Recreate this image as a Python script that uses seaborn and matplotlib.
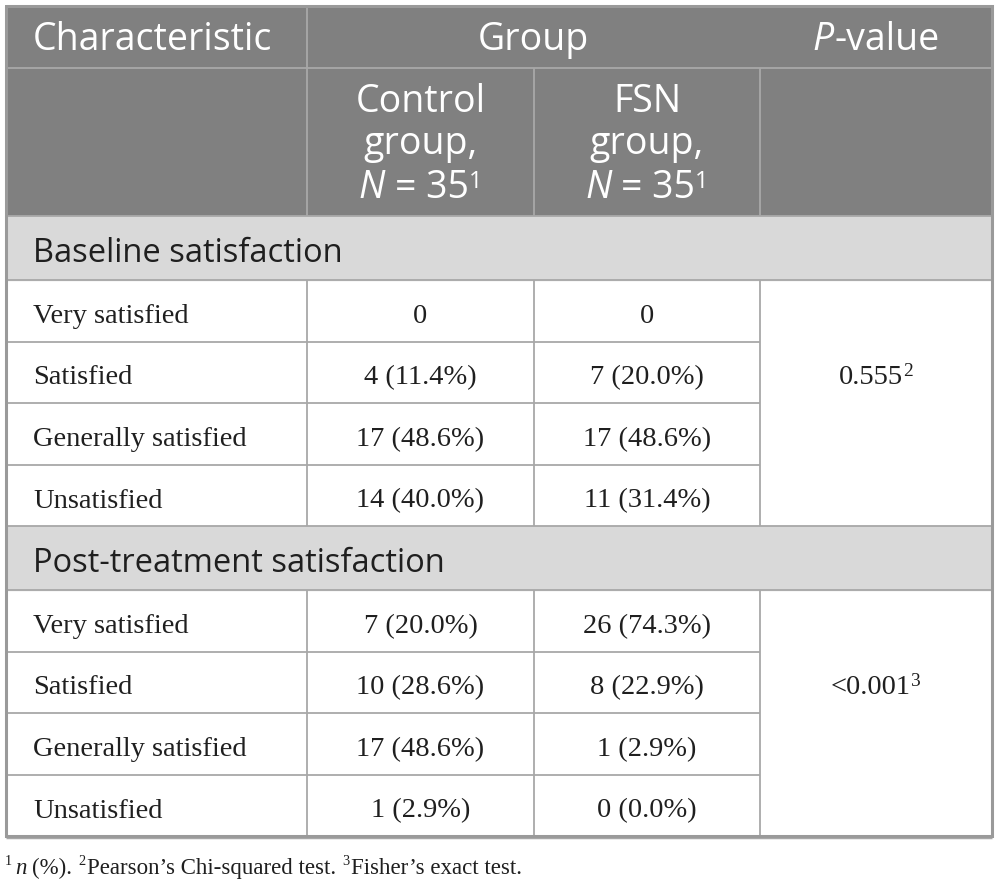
import matplotlib
matplotlib.use("Agg")
import matplotlib.pyplot as plt
from matplotlib.patches import Rectangle
import seaborn as sns

# table content
sections = ["Baseline satisfaction", "Post-treatment satisfaction"]
levels = ["Very satisfied", "Satisfied", "Generally satisfied", "Unsatisfied"]
control_vals = [
    ["0", "4 (11.4%)", "17 (48.6%)", "14 (40.0%)"],
    ["7 (20.0%)", "10 (28.6%)", "17 (48.6%)", "1 (2.9%)"],
]
fsn_vals = [
    ["0", "7 (20.0%)", "17 (48.6%)", "11 (31.4%)"],
    ["26 (74.3%)", "8 (22.9%)", "1 (2.9%)", "0 (0.0%)"],
]
p_values = ["0.555", "<0.001"]
p_notes = ["2", "3"]
group_names = ["Control", "FSN"]
group_sizes = [35, 35]
footnotes = ["(%).", "Pearson’s Chi-squared test.", "Fisher’s exact test."]

sns.set_theme(style="white")
SANS = ["Open Sans", "DejaVu Sans"]
SERIF = ["Liberation Serif", "DejaVu Serif"]

# layout in pixels
W, H = 1000, 894
col_x = [6, 307, 534, 760, 992]
head1 = (6, 68)
head2 = (68, 216)
sec_h = 64
row_h = 61.5
dark = "#808080"
light = "#d9d9d9"
line_c = "#a8a8a8"
ink = "#1f1f1f"

fig = plt.figure(figsize=(W / 100, H / 100), dpi=100)
ax = fig.add_axes([0, 0, 1, 1])
ax.set_xlim(0, W)
ax.set_ylim(H, 0)
ax.axis("off")
renderer = fig.canvas.get_renderer()


def text_width(s, size, family, style="normal"):
    t = ax.text(0, 0, s, fontsize=size, family=family, style=style)
    w = t.get_window_extent(renderer).width
    t.remove()
    return w


def draw_runs(x, y, parts, size, family, color, ha="left", sup_size=0.62, sup_raise=9):
    # parts: (string, kind) with kind n=normal, i=italic, s=superscript, g=gap in px
    space = text_width("x x", size, family) - text_width("xx", size, family)
    items = []
    for s, kind in parts:
        if kind == "g":
            items.append((None, float(s), 0, size, "normal"))
        elif s == " ":
            items.append((None, space, 0, size, "normal"))
        elif kind == "s":
            fs = size * sup_size
            items.append((s, text_width(s, fs, family), sup_raise, fs, "normal"))
        else:
            st = "italic" if kind == "i" else "normal"
            items.append((s, text_width(s, size, family, st), 0, size, st))
    total = sum(it[1] for it in items)
    start = x - total / 2 if ha == "center" else x
    for s, w, dy, fs, st in items:
        if s is not None:
            ax.text(start, y - dy, s, fontsize=fs, family=family, color=color,
                    style=st, va="baseline", ha="left")
        start += w


def hline(y, x0, x1, lw=1.3):
    ax.plot([x0, x1], [y, y], color=line_c, lw=lw, solid_capstyle="butt", zorder=3)


def vline(x, y0, y1, lw=1.3):
    ax.plot([x, x], [y0, y1], color=line_c, lw=lw, solid_capstyle="butt", zorder=3)


# header backgrounds
ax.add_patch(Rectangle((col_x[0], head1[0]), col_x[-1] - col_x[0], head2[1] - head1[0],
                       color=dark, zorder=1))

ax.text(33, 50, "Characteristic", fontsize=27, family=SANS, color="white", va="baseline")
ax.text((col_x[1] + col_x[3]) / 2, 50, "Group", fontsize=27, family=SANS, color="white",
        va="baseline", ha="center")
draw_runs((col_x[3] + col_x[4]) / 2, 50, [("P", "i"), ("-value", "n")], 27, SANS,
          "white", ha="center")

for i, (name, n) in enumerate(zip(group_names, group_sizes)):
    cx = (col_x[i + 1] + col_x[i + 2]) / 2
    ax.text(cx, 112, name, fontsize=27, family=SANS, color="white", va="baseline", ha="center")
    ax.text(cx, 154, "group,", fontsize=27, family=SANS, color="white", va="baseline", ha="center")
    draw_runs(cx, 198, [("N", "i"), (" ", "n"), ("= %d" % n, "n"), ("1", "s")], 27, SANS,
              "white", ha="center", sup_size=0.62, sup_raise=10)

hline(head1[1], col_x[0], col_x[-1])
vline(col_x[1], head1[0], head2[1])
vline(col_x[2], head2[0], head2[1])
vline(col_x[3], head2[0], head2[1])

# body sections
y = head2[1]
for k, sec in enumerate(sections):
    ax.add_patch(Rectangle((col_x[0], y), col_x[-1] - col_x[0], sec_h, color=light, zorder=1))
    ax.text(33, y + 46, sec, fontsize=23.5, family=SANS, color=ink, va="baseline")
    hline(y, col_x[0], col_x[-1])
    y += sec_h
    hline(y, col_x[0], col_x[-1])
    top = y
    for j, lev in enumerate(levels):
        base = y + 43
        ax.text(33, base, lev, fontsize=20.5, family=SERIF, color=ink, va="baseline")
        ax.text((col_x[1] + col_x[2]) / 2, base, control_vals[k][j], fontsize=20.5,
                family=SERIF, color=ink, va="baseline", ha="center")
        ax.text((col_x[2] + col_x[3]) / 2, base, fsn_vals[k][j], fontsize=20.5,
                family=SERIF, color=ink, va="baseline", ha="center")
        if j == 1:
            draw_runs((col_x[3] + col_x[4]) / 2, base, [(p_values[k], "n"), (p_notes[k], "s")],
                      20.5, SERIF, ink, ha="center", sup_size=0.68, sup_raise=8)
        y += row_h
        if j < len(levels) - 1:
            hline(y, col_x[0], col_x[3])
    for cx in col_x[1:4]:
        vline(cx, top, y)

# outer border
bottom = y
ax.plot([col_x[0], col_x[-1], col_x[-1], col_x[0], col_x[0]],
        [head1[0], head1[0], bottom, bottom, head1[0]],
        color="#9a9a9a", lw=2.2, zorder=4, solid_joinstyle="miter")
hline(bottom + 1, col_x[0], col_x[-1], lw=2.5)

# footnote
foot_parts = [("1", "s"), ("3", "g"), ("n", "i"), (" ", "n"), (footnotes[0], "n"), (" ", "n"),
              ("2", "s"), ("2", "g"), (footnotes[1], "n"), (" ", "n"),
              ("3", "s"), ("2", "g"), (footnotes[2], "n")]
draw_runs(5, 874, foot_parts, 16.5, SERIF, ink, sup_size=0.62, sup_raise=9)

fig.savefig("out.png", dpi=100, facecolor="white")
